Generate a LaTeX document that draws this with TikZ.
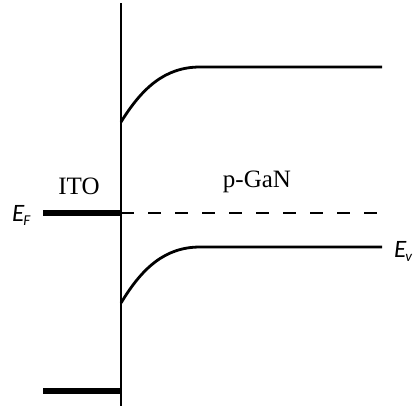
\documentclass[tikz,border=0pt]{standalone}
\usepackage{fontspec}
\setmainfont{Liberation Serif}
\newfontfamily\calfont{Carlito}
\usetikzlibrary{positioning}

\begin{document}
\begin{tikzpicture}[x=1pt, y=-1pt,
    band/.style={line width=2.8pt},
    level/.style={line width=6.5pt},
    fermi/.style={line width=1.9pt, dash pattern=on 13pt off 14pt},
    lbl/.style={font=\fontsize{25}{27}\selectfont, inner sep=0pt},
    sym/.style={font=\calfont\itshape\fontsize{25}{27}\selectfont, inner sep=0pt}
  ]
    \useasboundingbox (0,0) rectangle (414,408);

    % Interface and contact levels
    \coordinate (itop) at (121,3);
    \coordinate (ibot) at (121,406);
    \draw[line width=2.8pt] (itop) -- (ibot);

    \coordinate (efl) at (43,213);
    \coordinate (efr) at (121,213);
    \draw[level] (efl) -- (efr);
    \coordinate (lowl) at (43,391);
    \coordinate (lowr) at (121,391);
    \draw[level] (lowl) -- (lowr);

    % Fermi level in p-GaN
    \coordinate (fend) at (382,213);
    \draw[fermi] (efr) -- (fend);

    % Band bending
    \coordinate (cs) at (121,122);
    \coordinate (cf) at (200,67);
    \coordinate (ce) at (382,67);
    \draw[band] (cs) .. controls (142,88) and (165,67) .. (cf) -- (ce);

    \coordinate (vs) at (121,303);
    \coordinate (vf) at (200,247);
    \coordinate (ve) at (382,247);
    \draw[band] (vs) .. controls (142,268) and (165,247) .. (vf) -- (ve);

    % Labels
    \node[lbl] (ito) at (79,186) {ITO};
    \node[lbl] (gan) at (257,182) {p-GaN};
    \node[sym, anchor=west] (ef) at (12,215) {E\kern-1pt\raisebox{-4pt}{\fontsize{15}{16}\selectfont F}};
    \node[sym, anchor=west] (ev) at (394,251) {E\kern-1pt\raisebox{-4pt}{\fontsize{15}{16}\selectfont v}};
\end{tikzpicture}
\end{document}
